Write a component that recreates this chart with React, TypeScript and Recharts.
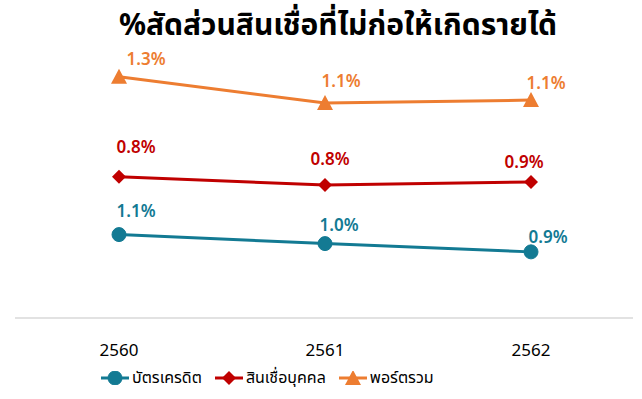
import { Area, AreaChart, LabelList, XAxis, YAxis } from 'recharts';

const years = ['2560', '2561', '2562'];
// the source is a stacked line chart: each series sits on top of the previous one
const creditCard = [1.11, 0.99, 0.88];
const personalLoan = [0.77, 0.78, 0.93];
const totalPort = [1.33, 1.09, 1.09];

const seriesNames = ['บัตรเครดิต', 'สินเชื่อบุคคล', 'พอร์ตรวม'];
const colors = ['#137A93', '#C00000', '#ED7D31'];

const data = years.map((year, i) => ({
  year,
  card: creditCard[i],
  personal: personalLoan[i],
  total: totalPort[i]
}));

// hand-placed label offsets, like the original
const labelShift: Record<string, [number, number][]> = {
  card: [
    [17, -24],
    [14, -19],
    [17, -15]
  ],
  personal: [
    [17, -30],
    [5, -26],
    [-7, -20]
  ],
  total: [
    [27, -18],
    [16, -23],
    [15, -18]
  ]
};

const FONT = "'Noto Sans', 'Noto Sans Thai', Tahoma, sans-serif";

function Marker({ kind, cx, cy, color }: { kind: string; cx: number; cy: number; color: string }) {
  if (cx == null || cy == null) return null;
  if (kind === 'circle') return <circle cx={cx} cy={cy} r={7} fill={color} stroke={color} />;
  if (kind === 'diamond')
    return <polygon points={`${cx},${cy - 7} ${cx + 7},${cy} ${cx},${cy + 7} ${cx - 7},${cy}`} fill={color} />;
  return <polygon points={`${cx},${cy - 8} ${cx + 8},${cy + 7} ${cx - 8},${cy + 7}`} fill={color} />;
}

const makeLabel = (key: string, color: string) => (props: any) => {
  const { x, y, index, value } = props;
  const [dx, dy] = labelShift[key][index];
  return (
    <text
      x={x + dx}
      y={y + dy}
      textAnchor="middle"
      dominantBaseline="central"
      fill={color}
      fontSize={17}
      fontWeight={600}
      fontFamily={FONT}
    >
      {Number(value).toFixed(1)}%
    </text>
  );
};

const keys = ['card', 'personal', 'total'];
const markers = ['circle', 'diamond', 'triangle'];

function LegendIcon({ kind, color }: { kind: string; color: string }) {
  return (
    <svg width={30} height={14} style={{ marginRight: 2 }}>
      <line x1={1} y1={7} x2={29} y2={7} stroke={color} strokeWidth={3} />
      <Marker kind={kind} cx={15} cy={7} color={color} />
    </svg>
  );
}

export default function App() {
  return (
    <div style={{ position: 'absolute', left: 0, top: 0, width: 642, height: 399, background: '#fff' }}>
      <div
        style={{
          position: 'absolute',
          top: 3,
          left: 0,
          width: 676,
          textAlign: 'center',
          fontFamily: FONT,
          fontSize: 30,
          fontWeight: 700,
          color: '#000'
        }}
      >
        %สัดส่วนสินเชื่อที่ไม่ก่อให้เกิดรายได้
      </div>
      <AreaChart width={642} height={362} data={data} margin={{ top: 55, right: 9, bottom: 0, left: 15 }}>
        <XAxis
          dataKey="year"
          padding={{ left: 104, right: 102 }}
          axisLine={{ stroke: '#D9D9D9', strokeWidth: 1.5 }}
          tickLine={false}
          tickSize={0}
          tickMargin={26}
          height={44}
          tick={{ fill: '#000', fontSize: 17, fontFamily: FONT }}
        />
        <YAxis hide domain={[0, 3.5]} />
        {keys.map((key, i) => (
          <Area
            key={key}
            type="linear"
            dataKey={key}
            stackId="npl"
            stroke={colors[i]}
            strokeWidth={3}
            fill="none"
            fillOpacity={0}
            isAnimationActive={false}
            dot={(p: any) => <Marker key={`${key}-${p.index}`} kind={markers[i]} cx={p.cx} cy={p.cy} color={colors[i]} />}
            activeDot={false}
          >
            <LabelList dataKey={key} content={makeLabel(key, colors[i])} />
          </Area>
        ))}
      </AreaChart>
      <div
        style={{
          position: 'absolute',
          top: 366,
          left: 100,
          display: 'flex',
          alignItems: 'center',
          gap: 12,
          fontFamily: FONT,
          fontSize: 16,
          color: '#000'
        }}
      >
        {seriesNames.map((name, i) => (
          <span key={name} style={{ display: 'flex', alignItems: 'center' }}>
            <LegendIcon kind={markers[i]} color={colors[i]} />
            {name}
          </span>
        ))}
      </div>
    </div>
  );
}
